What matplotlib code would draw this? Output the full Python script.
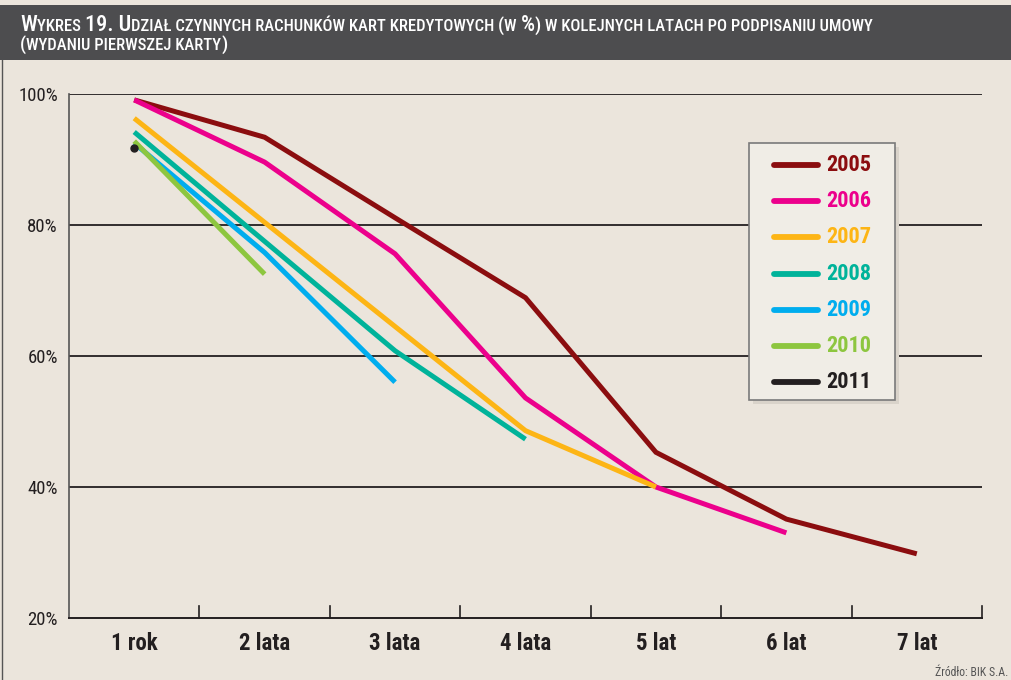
import matplotlib
matplotlib.use('Agg')
import matplotlib.pyplot as plt
from matplotlib.patches import Rectangle
from matplotlib.lines import Line2D
from matplotlib import font_manager

categories = ['1 rok', '2 lata', '3 lata', '4 lata', '5 lat', '6 lat', '7 lat']
years = ['2005', '2006', '2007', '2008', '2009', '2010', '2011']
v2005 = [99.1, 93.4, 81.1, 68.9, 45.3, 35.1, 29.8]
v2006 = [99.1, 89.6, 75.6, 53.6, 40.0, 33.0]
v2007 = [96.3, 80.4, 64.5, 48.6, 40.0]
v2008 = [94.2, 77.5, 60.8, 47.3]
v2009 = [92.5, 75.8, 56.0]
v2010 = [92.8, 72.5]
v2011 = [91.8]
series = [v2005, v2006, v2007, v2008, v2009, v2010, v2011]
colors = ['#8b0d0f', '#ec008c', '#fdb515', '#00b39a', '#00adee', '#8dc63f', '#231f20']
yticks = [20, 40, 60, 80, 100]

bg = '#ebe5dc'
names = {f.name for f in font_manager.fontManager.ttflist}
fam = [f for f in ['Roboto Condensed', 'Liberation Sans Narrow', 'Lato', 'DejaVu Sans'] if f in names]

fig = plt.figure(figsize=(10.11, 6.8), dpi=100)
fig.patch.set_facecolor(bg)
renderer = fig.canvas.get_renderer()

# title bar (small caps imitated with two sizes)
fig.patches.append(Rectangle((0, 1 - 60 / 680), 1, 55 / 680, transform=fig.transFigure,
                             facecolor='#4d4d4f', edgecolor='none', zorder=0))
BIG, PAR, SMALL = 16, 14, 12
title_lines = [
    [('W', BIG), ('YKRES ', SMALL), ('19. U', BIG), ('DZIAŁ CZYNNYCH RACHUNKÓW KART KREDYTOWYCH ', SMALL),
     ('(', PAR), ('W ', SMALL), ('%', BIG), (')', PAR), (' W KOLEJNYCH LATACH PO PODPISANIU UMOWY', SMALL)],
    [('(', PAR), ('WYDANIU PIERWSZEJ KARTY', SMALL), (')', PAR)],
]
for row, parts in enumerate(title_lines):
    xpos = 20 / 1011
    ybase = 1 - (31 + row * 19) / 680
    for s, size in parts:
        t = fig.text(xpos, ybase, s, color='white', fontsize=size, fontweight='medium',
                     family=fam, va='baseline')
        bb = t.get_window_extent(renderer)
        xpos += bb.width / 1011
fig.add_artist(Line2D([2 / 1011, 2 / 1011], [0, 1 - 60 / 680], transform=fig.transFigure,
                      color='#555555', lw=1))

ax = fig.add_axes([69 / 1011, 1 - 618 / 680, 913 / 1011, 524 / 680])
ax.set_facecolor(bg)
x = list(range(1, 8))

for vals, c, lab in zip(series, colors, years):
    if len(vals) == 1:
        ax.plot(x[:1], vals, 'o', color=c, ms=5, zorder=3)
    else:
        ax.plot(x[:len(vals)], vals, color=c, lw=3.6, solid_capstyle='butt',
                solid_joinstyle='miter', zorder=3)

ax.set_xlim(0.5, 7.5)
ax.set_ylim(20, 100)
for g in yticks[1:]:
    ax.axhline(g, color='#231f20', lw=1.3, zorder=1)

ax.set_yticks(yticks)
ax.set_yticklabels([f'{v}%' for v in yticks], family=fam, fontsize=13.5, color='#231f20')
ax.tick_params(axis='y', length=0, pad=8)

ax.set_xticks(x)
ax.set_xticklabels(categories, family=fam, fontsize=16.5, fontweight='bold', color='#231f20')
ax.tick_params(axis='x', length=0, pad=10)
for b in [1.5 + i for i in range(7)]:
    ax.plot([b, b], [20, 21.8], color='#231f20', lw=1.2, zorder=2, clip_on=False)

for s in ['top', 'right']:
    ax.spines[s].set_visible(False)
ax.spines['left'].set_color('#555555')
ax.spines['left'].set_linewidth(1.2)
ax.spines['bottom'].set_color('#231f20')
ax.spines['bottom'].set_linewidth(1.4)

# legend box
lx0, ly0, lw_, lh = 749 / 1011, 1 - 400 / 680, 146 / 1011, 257 / 680
fig.patches.append(Rectangle((lx0 + 4 / 1011, ly0 - 4 / 680), lw_, lh, transform=fig.transFigure,
                             facecolor='#d9d3ca', edgecolor='none', zorder=4))
fig.patches.append(Rectangle((lx0, ly0), lw_, lh, transform=fig.transFigure,
                             facecolor='#f0ede6', edgecolor='#7a7a7a', lw=1.2, zorder=5))
for i, (lab, c) in enumerate(zip(years, colors)):
    yy = 1 - (165 + i * 36.2) / 680
    fig.add_artist(Line2D([774 / 1011, 818 / 1011], [yy, yy], transform=fig.transFigure,
                          color=c, lw=4.2, solid_capstyle='round', zorder=6))
    fig.text(826 / 1011, yy, lab, color=c, fontsize=16, fontweight='bold', family=fam,
             va='center', zorder=6)

fig.text(1008 / 1011, 1 - 673 / 680, 'Źródło: BIK S.A.', family=fam, fontsize=8.5,
         color='#555555', ha='right', va='center')

fig.savefig('out.png', dpi=100, facecolor=bg)
